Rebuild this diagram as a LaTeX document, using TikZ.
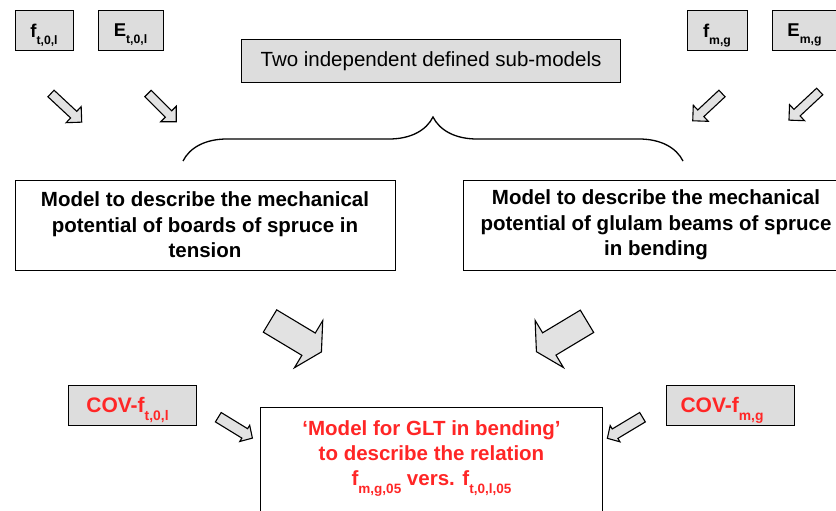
\documentclass[tikz,border=0pt]{standalone}
\usepackage{fontspec}
\setmainfont{Liberation Sans}
\usepackage{graphicx}
\usetikzlibrary{positioning,decorations.pathreplacing}

\definecolor{boxgray}{RGB}{221,221,221}
\definecolor{arrowgray}{RGB}{226,226,226}
\definecolor{gltred}{RGB}{255,38,38}

\newcommand{\lowidx}[1]{\raisebox{-.38em}{\scalebox{.66}{#1}}}

\tikzset{
  pics/fatarrow/.style n args={4}{code={%
    \draw[arr] (0,-#2/2) -- (#1-#4,-#2/2) -- (#1-#4,-#3/2) -- (#1,0)
      -- (#1-#4,#3/2) -- (#1-#4,#2/2) -- (0,#2/2) -- cycle;}},
}

\begin{document}
\begin{tikzpicture}[
  x=1pt, y=-1pt,
  font=\fontsize{20.5}{25}\selectfont,
  param/.style={draw, fill=boxgray, line width=1pt, minimum width=58, minimum height=40,
    text depth=0pt, font=\fontsize{18.5}{20}\selectfont\bfseries},
  cov/.style={draw, fill=boxgray, line width=1pt, minimum width=128, minimum height=40,
    text depth=0pt, text=gltred, font=\fontsize{21}{25}\selectfont\bfseries},
  model/.style={draw, line width=1pt, minimum width=380, minimum height=90, align=center,
    font=\fontsize{20.5}{25.5}\selectfont\bfseries},
  glt/.style={draw, line width=1pt, anchor=north, minimum width=342, inner ysep=0pt,
    text height=78pt, text depth=60pt, align=center, text=gltred,
    font=\fontsize{20.5}{25}\selectfont\bfseries},
  arr/.style={draw=black, fill=arrowgray, line width=1.1pt},
]
\useasboundingbox (0,0) rectangle (836,511);

% input parameters
\node[param] (ft) at (44,30.5) {f\lowidx{t,0,l}};
\node[param, minimum width=65, right=24pt of ft] (Et) {E\lowidx{t,0,l}};
\node[param, minimum width=60] (fm) at (717,30.5) {f\lowidx{m,g}};
\node[param, minimum width=65, right=24pt of fm] (Em) {E\lowidx{m,g}};

\node[draw, fill=boxgray, line width=1pt, minimum width=379, minimum height=43] (subm) at (431,61.5) {Two independent defined sub-models};

% sub-models
\node[model] (mTension) at (205,225) {Model to describe the mechanical\\potential of boards of spruce in\\tension};
\node[model, minimum width=386, right=67pt of mTension] (mBending) {Model to describe the mechanical\\potential of glulam beams of spruce\\in bending};

% variation and combined model
\node[cov] (covL) at (132.5,405) {COV-f\lowidx{t,0,l}\hspace*{10pt}};
\node[cov] (covR) at (730,405) {COV-f\lowidx{m,g}\hspace*{16pt}};
\node[glt] (glt) at (431.5,407) {‘Model for GLT in bending’\\to describe the relation\\f\lowidx{m,g,05} vers. f\lowidx{t,0,l,05}};

% brace
\coordinate (braceL) at (183,161);
\coordinate (braceR) at (683,161);
\draw[decorate, decoration={brace, amplitude=44pt}, line width=1.3pt] (braceL) -- (braceR);

% block arrows
\pic[rotate=-43] at (51,93.5) {fatarrow={42}{9}{22}{11}};
\pic[rotate=-45] at (148,93.5) {fatarrow={40}{9}{22}{11}};
\pic[rotate=-137] at (722,93.5) {fatarrow={40}{9}{22}{11}};
\pic[rotate=-137] at (819.7,91.5) {fatarrow={42}{9}{22}{11}};
\pic[rotate=-31] at (270,321) {fatarrow={60}{26}{55}{15}};
\pic[rotate=-149] at (587,321.3) {fatarrow={59}{26}{55}{15}};
\pic[rotate=-31.5] at (218.3,417.2) {fatarrow={40}{11}{19}{9}};
\pic[rotate=-149] at (642.5,417.2) {fatarrow={41}{11}{19}{9}};

\end{tikzpicture}
\end{document}
